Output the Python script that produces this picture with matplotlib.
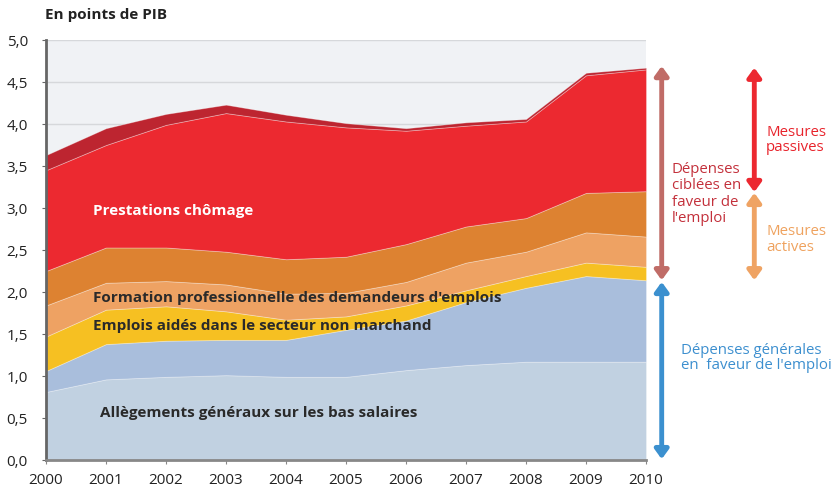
import matplotlib
matplotlib.use("Agg")
import matplotlib.pyplot as plt
from matplotlib import font_manager as fm

years = [2000, 2001, 2002, 2003, 2004, 2005, 2006, 2007, 2008, 2009, 2010]
allegements = [0.81, 0.96, 0.99, 1.01, 0.99, 0.99, 1.07, 1.13, 1.17, 1.17, 1.17]
autres_generales = [0.25, 0.42, 0.43, 0.42, 0.44, 0.56, 0.59, 0.75, 0.88, 1.02, 0.97]
emplois_aides = [0.41, 0.41, 0.41, 0.34, 0.24, 0.16, 0.18, 0.14, 0.14, 0.16, 0.16]
formation = [0.37, 0.32, 0.30, 0.32, 0.31, 0.28, 0.28, 0.33, 0.29, 0.36, 0.36]
autres_actives = [0.41, 0.42, 0.40, 0.39, 0.41, 0.43, 0.45, 0.43, 0.40, 0.47, 0.54]
prestations = [1.20, 1.22, 1.46, 1.65, 1.64, 1.54, 1.35, 1.20, 1.15, 1.40, 1.45]
autres_passives = [0.18, 0.20, 0.13, 0.10, 0.08, 0.05, 0.03, 0.04, 0.03, 0.03, 0.02]

yticks = [0.0, 0.5, 1.0, 1.5, 2.0, 2.5, 3.0, 3.5, 4.0, 4.5, 5.0]

colors = ["#C1D1E1", "#A9BEDC", "#F6C022", "#EEA263", "#DD8231", "#EC2930", "#BD2530"]

avail = {f.name for f in fm.fontManager.ttflist}
def pick(cands):
    for c in cands:
        if c in avail:
            return c
    return "DejaVu Sans"
narrow = pick(["Liberation Sans Narrow", "Open Sans", "DejaVu Sans"])
main = pick(["Open Sans", "Lato", "DejaVu Sans"])

fig = plt.figure(figsize=(8.34, 4.92), dpi=100)
ax = fig.add_axes([46/834, 32/492, 600/834, 420/492])
ax.set_facecolor("#F0F2F5")
ax.set_axisbelow(True)

ax.stackplot(years, allegements, autres_generales, emplois_aides, formation,
             autres_actives, prestations, autres_passives, colors=colors,
             edgecolor=(1, 1, 1, 0.35), linewidth=0.6)

ax.set_xlim(2000, 2010)
ax.set_ylim(0, 5)
ax.set_yticks(yticks)
ax.set_yticklabels([f"{v:.1f}".replace(".", ",") for v in yticks], fontfamily=narrow, fontsize=11, color="#222")
ax.set_xticks(years)
ax.set_xticklabels([str(y) for y in years], fontfamily=narrow, fontsize=11, color="#222")
ax.grid(axis="y", color="#D6D8DB", linewidth=1)
ax.tick_params(axis="y", length=3, color="#666", pad=10)
ax.tick_params(axis="x", length=3, color="#888", pad=6)
for s in ["top", "right"]:
    ax.spines[s].set_visible(False)
ax.spines["left"].set_color("#666")
ax.spines["left"].set_linewidth(2)
ax.spines["bottom"].set_color("#888")
ax.spines["bottom"].set_linewidth(2)

fig.text(45/834, 1 - 15/492, "En points de PIB", fontfamily=main, fontweight="bold", fontsize=11, color="#222", va="center", ha="left")

lab = dict(fontfamily=main, fontweight="bold", fontsize=11, va="center", ha="left")
ax.text(2000.78, 2.97, "Prestations chômage", color="white", **lab)
ax.text(2000.78, 1.93, "Formation professionnelle des demandeurs d'emplois", color="#2A2A2A", **lab)
ax.text(2000.79, 1.59, "Emplois aidés dans le secteur non marchand", color="#2A2A2A", **lab)
ax.text(2000.9, 0.56, "Allègements généraux sur les bas salaires", color="#2A2A2A", **lab)

def px2yr(px):
    return 2000 + (px - 46) / 60.0

def arrow(x, y0, y1, color):
    ax.annotate("", xy=(px2yr(x), y1), xytext=(px2yr(x), y0),
                arrowprops=dict(arrowstyle="<|-|>,head_length=0.55,head_width=0.4", color=color, lw=3.5,
                                shrinkA=0, shrinkB=0), annotation_clip=False)

arrow(661.7, 4.69, 2.14, "#C06C67")
arrow(661.7, 2.12, 0.01, "#3B90CF")
arrow(754.3, 4.67, 3.19, "#EC2830")
arrow(754.3, 3.18, 2.14, "#EFA363")

side = dict(fontfamily=main, fontsize=10.8, va="center", ha="left", clip_on=False)
ax.text(px2yr(671.7), (460 - 194) / 84, "Dépenses\nciblées en\nfaveur de\nl'emploi", color="#C3303B", linespacing=1.15, **side)
ax.text(px2yr(766), (460 - 140) / 84, "Mesures\npassives", color="#E8232B", linespacing=1.05, **side)
ax.text(px2yr(766), (460 - 239.5) / 84, "Mesures\nactives", color="#EFA25E", linespacing=1.05, **side)
ax.text(px2yr(680.7), (460 - 358) / 84, "Dépenses générales\nen  faveur de l'emploi", color="#3C8FCF", linespacing=1.05, **side)

fig.savefig("out.png", dpi=100)
